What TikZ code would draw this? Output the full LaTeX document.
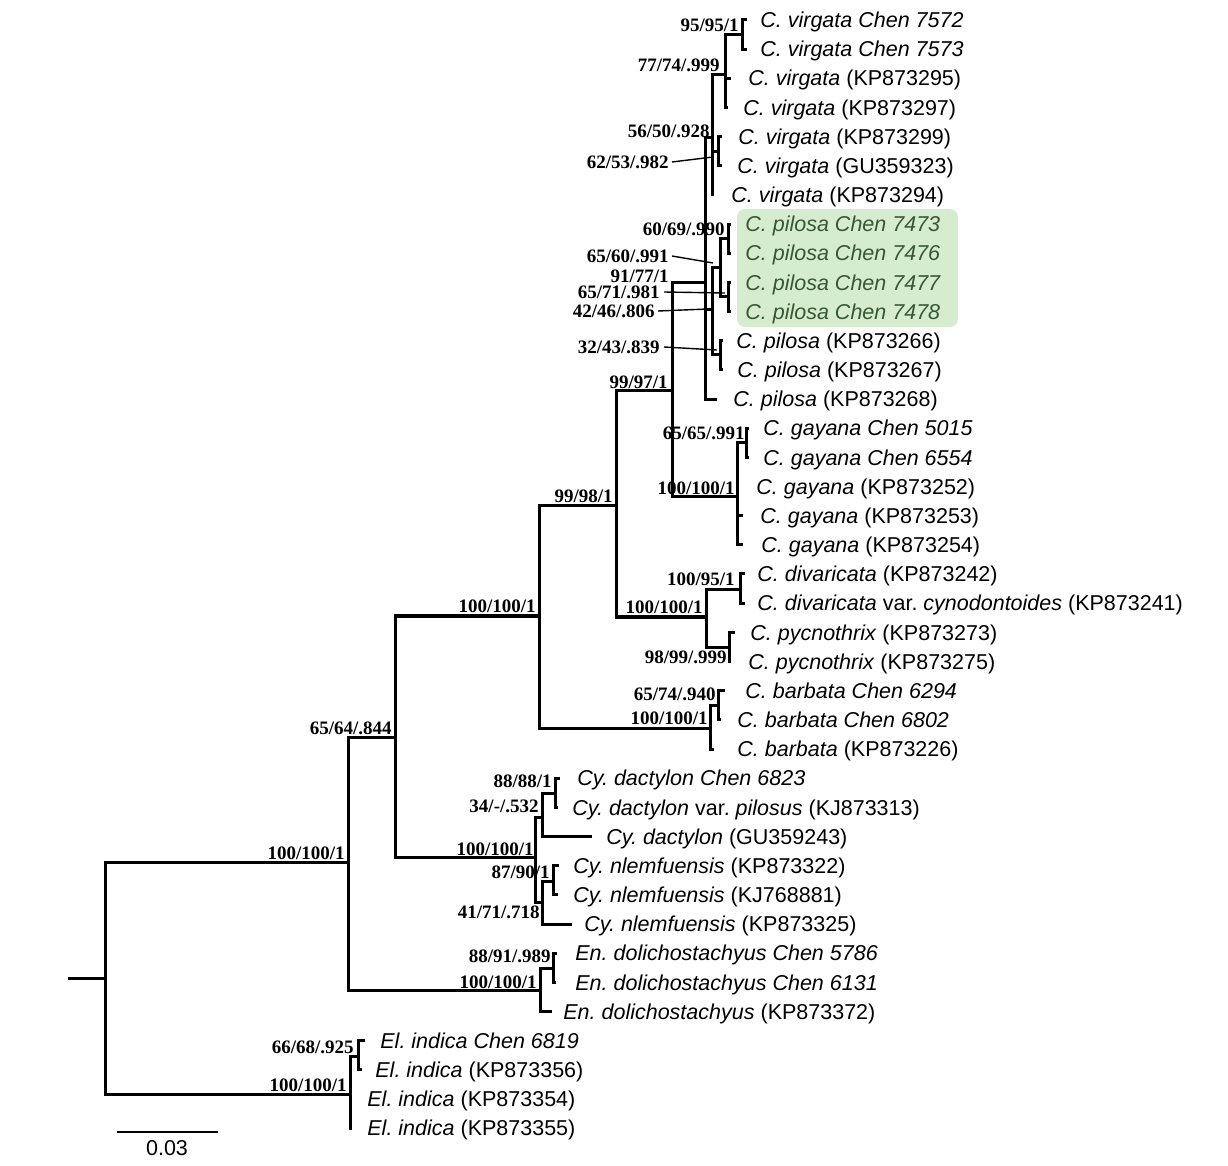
\documentclass[tikz,border=0pt]{standalone}
\usepackage{fontspec}
\setmainfont{Liberation Serif}
\newfontfamily\lsans{Liberation Sans}
\definecolor{boxgreen}{RGB}{213,236,206}
\definecolor{pilgreen}{RGB}{56,88,52}
\frenchspacing
\begin{document}
\begin{tikzpicture}[x=0.5pt,y=-0.5pt,
  br/.style={line width=1.5pt, line join=miter},
  leaf/.style={anchor=west, inner sep=0pt, font=\lsans\fontsize{10.75}{12}\selectfont, text height=7.7pt, text depth=0pt},
  pleaf/.style={leaf, text=pilgreen},
  sup/.style={anchor=east, inner sep=0pt, font=\bfseries\fontsize{9.5}{11}\selectfont, text height=6.4pt, text depth=0pt},
  ptr/.style={line width=0.7pt}]
\useasboundingbox (0,0) rectangle (1228,1166);
% highlight box
\fill[boxgreen, rounded corners=4pt] (737,209) rectangle (958,327);

% ---------- internal nodes ----------
\coordinate (r0) at (68,978);
\coordinate (nRoot) at (105,978);
\coordinate (nA) at (348,862);
\coordinate (nB) at (395,737);
\coordinate (nC) at (539,616);
\coordinate (nD) at (616,506);
\coordinate (nE) at (672,391);
\coordinate (nF) at (705,283);
\coordinate (nVir) at (712,138);
\coordinate (nV77) at (725,75);
\coordinate (nV95) at (742,35);
\coordinate (nV62) at (718,152);
\coordinate (nPil) at (712,310);
\coordinate (nP65) at (720,268);
\coordinate (nP60) at (728,239);
\coordinate (nP71) at (728,297);
\coordinate (nP32) at (720,355);
\coordinate (nGay) at (737,497);
\coordinate (nG65) at (746,443);
\coordinate (nDiv) at (706,617);
\coordinate (nDv) at (740,590);
\coordinate (nPy) at (729,647);
\coordinate (nBarb) at (710,728);
\coordinate (nB65) at (718,705);
\coordinate (nCy) at (535,857);
\coordinate (nC34) at (542,817);
\coordinate (nC88) at (555,793);
\coordinate (nC41) at (542,902);
\coordinate (nC87) at (553,881);
\coordinate (nEn) at (540,990);
\coordinate (nE88) at (553,968);
\coordinate (nEl) at (350,1094);
\coordinate (nEl66) at (358,1056);

% ---------- leaf tips ----------
\coordinate (t1) at (747,20);
\coordinate (t2) at (747,49.2);
\coordinate (t3) at (731,78.3);
\coordinate (t4) at (728,107.5);
\coordinate (t5) at (722,136.6);
\coordinate (t6) at (722,165.8);
\coordinate (t7) at (714,195);
\coordinate (t8) at (731,224.1);
\coordinate (t9) at (731,253.3);
\coordinate (t10) at (731,282.4);
\coordinate (t11) at (731,311.6);
\coordinate (t12) at (723,340.8);
\coordinate (t13) at (723,369.9);
\coordinate (t14) at (717,399.1);
\coordinate (t15) at (749,428.2);
\coordinate (t16) at (749,457.4);
\coordinate (t17) at (739,486.6);
\coordinate (t18) at (743,515.7);
\coordinate (t19) at (743,544.9);
\coordinate (t20) at (745,574);
\coordinate (t21) at (745,603.2);
\coordinate (t22) at (735,632.4);
\coordinate (t23) at (731,661.5);
\coordinate (t24) at (725,690.7);
\coordinate (t25) at (721,719.8);
\coordinate (t26) at (714,749);
\coordinate (t27) at (560,778.2);
\coordinate (t28) at (558,807.3);
\coordinate (t29) at (592,836.5);
\coordinate (t30) at (559,865.6);
\coordinate (t31) at (558,894.8);
\coordinate (t32) at (572,924);
\coordinate (t33) at (557,953.1);
\coordinate (t34) at (556,982.3);
\coordinate (t35) at (552,1011.4);
\coordinate (t36) at (365,1040.6);
\coordinate (t37) at (362,1069.8);
\coordinate (t38) at (352,1098.9);
\coordinate (t39) at (352,1128);

% ---------- branches ----------
\draw[br] (r0) -- (nRoot);
\draw[br] (nRoot) |- (nA);   \draw[br] (nRoot) |- (nEl);
\draw[br] (nA) |- (nB);      \draw[br] (nA) |- (nEn);
\draw[br] (nB) |- (nC);      \draw[br] (nB) |- (nCy);
\draw[br] (nC) |- (nD);      \draw[br] (nC) |- (nBarb);
\draw[br] (nD) |- (nE);      \draw[br] (nD) |- (nDiv);
\draw[br] (nE) |- (nF);      \draw[br] (nE) |- (nGay);
\draw[br] (nF) |- (nVir);    \draw[br] (nF) |- (nPil);   \draw[br] (nF) |- (t14);
\draw[br] (nVir) |- (nV77);  \draw[br] (nVir) |- (nV62); \draw[br] (nVir) |- (t7);
\draw[br] (nV77) |- (nV95);  \draw[br] (nV77) |- (t3);   \draw[br] (nV77) |- (t4);
\draw[br] (nV95) |- (t1);    \draw[br] (nV95) |- (t2);
\draw[br] (nV62) |- (t5);    \draw[br] (nV62) |- (t6);
\draw[br] (nPil) |- (nP65);  \draw[br] (nPil) |- (nP32);
\draw[br] (nP65) |- (nP60);  \draw[br] (nP65) |- (nP71);
\draw[br] (nP60) |- (t8);    \draw[br] (nP60) |- (t9);
\draw[br] (nP71) |- (t10);   \draw[br] (nP71) |- (t11);
\draw[br] (nP32) |- (t12);   \draw[br] (nP32) |- (t13);
\draw[br] (nGay) |- (nG65);  \draw[br] (nGay) |- (t17);  \draw[br] (nGay) |- (t18); \draw[br] (nGay) |- (t19);
\draw[br] (nG65) |- (t15);   \draw[br] (nG65) |- (t16);
\draw[br] (nDiv) |- (nDv);   \draw[br] (nDiv) |- (nPy);
\draw[br] (nDv) |- (t20);    \draw[br] (nDv) |- (t21);
\draw[br] (nPy) |- (t22);    \draw[br] (nPy) |- (t23);
\draw[br] (nBarb) |- (nB65); \draw[br] (nBarb) |- (t26);
\draw[br] (nB65) |- (t24);   \draw[br] (nB65) |- (t25);
\draw[br] (nCy) |- (nC34);   \draw[br] (nCy) |- (nC41);
\draw[br] (nC34) |- (nC88);  \draw[br] (nC34) |- (t29);
\draw[br] (nC88) |- (t27);   \draw[br] (nC88) |- (t28);
\draw[br] (nC41) |- (nC87);  \draw[br] (nC41) |- (t32);
\draw[br] (nC87) |- (t30);   \draw[br] (nC87) |- (t31);
\draw[br] (nEn) |- (nE88);   \draw[br] (nEn) |- (t35);
\draw[br] (nE88) |- (t33);   \draw[br] (nE88) |- (t34);
\draw[br] (nEl) |- (nEl66);  \draw[br] (nEl) |- (t38);   \draw[br] (nEl) |- (t39);
\draw[br] (nEl66) |- (t36);  \draw[br] (nEl66) |- (t37);

% ---------- leaf labels ----------
\node[leaf] (l1) at (760,20) {\textit{C. virgata Chen 7572}};
\node[leaf] (l2) at (760,49.2) {\textit{C. virgata Chen 7573}};
\node[leaf] (l3) at (748,78.3) {\textit{C. virgata} (KP873295)};
\node[leaf] (l4) at (743,107.5) {\textit{C. virgata} (KP873297)};
\node[leaf] (l5) at (738,136.6) {\textit{C. virgata} (KP873299)};
\node[leaf] (l6) at (737,165.8) {\textit{C. virgata} (GU359323)};
\node[leaf] (l7) at (731,195) {\textit{C. virgata} (KP873294)};
\node[pleaf] (l8) at (745,224.1) {\textit{C. pilosa Chen 7473}};
\node[pleaf] (l9) at (745,253.3) {\textit{C. pilosa Chen 7476}};
\node[pleaf] (l10) at (745,282.4) {\textit{C. pilosa Chen 7477}};
\node[pleaf] (l11) at (745,311.6) {\textit{C. pilosa Chen 7478}};
\node[leaf] (l12) at (736,340.8) {\textit{C. pilosa} (KP873266)};
\node[leaf] (l13) at (737,369.9) {\textit{C. pilosa} (KP873267)};
\node[leaf] (l14) at (733,399.1) {\textit{C. pilosa} (KP873268)};
\node[leaf] (l15) at (763,428.2) {\textit{C. gayana Chen 5015}};
\node[leaf] (l16) at (763,457.4) {\textit{C. gayana Chen 6554}};
\node[leaf] (l17) at (756,486.6) {\textit{C. gayana} (KP873252)};
\node[leaf] (l18) at (760,515.7) {\textit{C. gayana} (KP873253)};
\node[leaf] (l19) at (761,544.9) {\textit{C. gayana} (KP873254)};
\node[leaf] (l20) at (757,574) {\textit{C. divaricata} (KP873242)};
\node[leaf] (l21) at (757,603.2) {\textit{C. divaricata} var. \textit{cynodontoides} (KP873241)};
\node[leaf] (l22) at (750,632.4) {\textit{C. pycnothrix} (KP873273)};
\node[leaf] (l23) at (748,661.5) {\textit{C. pycnothrix} (KP873275)};
\node[leaf] (l24) at (745,690.7) {\textit{C. barbata Chen 6294}};
\node[leaf] (l25) at (737,719.8) {\textit{C. barbata Chen 6802}};
\node[leaf] (l26) at (737,749) {\textit{C. barbata} (KP873226)};
\node[leaf] (l27) at (577,778.2) {\textit{Cy. dactylon Chen 6823}};
\node[leaf] (l28) at (572,807.3) {\textit{Cy. dactylon} var. \textit{pilosus} (KJ873313)};
\node[leaf] (l29) at (606,836.5) {\textit{Cy. dactylon} (GU359243)};
\node[leaf] (l30) at (573,865.6) {\textit{Cy. nlemfuensis} (KP873322)};
\node[leaf] (l31) at (573,894.8) {\textit{Cy. nlemfuensis} (KJ768881)};
\node[leaf] (l32) at (584,924) {\textit{Cy. nlemfuensis} (KP873325)};
\node[leaf] (l33) at (575,953.1) {\textit{En. dolichostachyus Chen 5786}};
\node[leaf] (l34) at (575,982.3) {\textit{En. dolichostachyus Chen 6131}};
\node[leaf] (l35) at (563,1011.4) {\textit{En. dolichostachyus} (KP873372)};
\node[leaf] (l36) at (380,1040.6) {\textit{El. indica Chen 6819}};
\node[leaf] (l37) at (375,1069.8) {\textit{El. indica} (KP873356)};
\node[leaf] (l38) at (367,1098.9) {\textit{El. indica} (KP873354)};
\node[leaf] (l39) at (367,1128) {\textit{El. indica} (KP873355)};

% ---------- support values ----------
\node[sup] (s1) at (739,25) {95/95/1};
\node[sup] (s2) at (720,65) {77/74/.999};
\node[sup] (s3) at (710,131) {56/50/.928};
\node[sup] (s4) at (669,162) {62/53/.982};
\node[sup] (s5) at (725,229) {60/69/.990};
\node[sup] (s6) at (669,256) {65/60/.991};
\node[sup] (s7) at (669,276) {91/77/1};
\node[sup] (s8) at (660,292) {65/71/.981};
\node[sup] (s9) at (655,311) {42/46/.806};
\node[sup] (s10) at (660,347) {32/43/.839};
\node[sup] (s11) at (668,382) {99/97/1};
\node[sup] (s12) at (745,433) {65/65/.991};
\node[sup] (s13) at (735,488) {100/100/1};
\node[sup] (s14) at (613,496) {99/98/1};
\node[sup] (s15) at (735,579) {100/95/1};
\node[sup] (s16) at (703,607) {100/100/1};
\node[sup] (s17) at (727,657) {98/99/.999};
\node[sup] (s18) at (716,694) {65/74/.940};
\node[sup] (s19) at (708,718) {100/100/1};
\node[sup] (s20) at (536,606) {100/100/1};
\node[sup] (s21) at (392,728) {65/64/.844};
\node[sup] (s22) at (345,853) {100/100/1};
\node[sup] (s23) at (552,781) {88/88/1};
\node[sup] (s24) at (539,806) {34/-/.532};
\node[sup] (s25) at (534,849) {100/100/1};
\node[sup] (s26) at (550,872) {87/90/1};
\node[sup] (s27) at (540,912) {41/71/.718};
\node[sup] (s28) at (551,956) {88/91/.989};
\node[sup] (s29) at (537,982) {100/100/1};
\node[sup] (s30) at (354,1047) {66/68/.925};
\node[sup] (s31) at (347,1085) {100/100/1};

% pointer lines
\coordinate (p4) at (713,157);
\coordinate (p6) at (713,263);
\coordinate (p8) at (725,293);
\coordinate (p9) at (708,309);
\coordinate (p10) at (717,350);
\draw[ptr] ([xshift=1.5pt]s4.east) -- (p4);
\draw[ptr] ([xshift=1.5pt]s6.east) -- (p6);
\draw[ptr] ([xshift=2pt]s8.east) -- (p8);
\draw[ptr] ([xshift=1.5pt]s9.east) -- (p9);
\draw[ptr] ([xshift=2pt]s10.east) -- (p10);

% ---------- scale bar ----------
\coordinate (sb1) at (117,1132);
\coordinate (sb2) at (218,1132);
\draw[line width=1.2pt] (sb1) -- (sb2);
\node[inner sep=0pt, font=\lsans\fontsize{10.75}{12}\selectfont, text height=7.7pt, text depth=0pt] (sbl) at (167,1148) {0.03};
\end{tikzpicture}
\end{document}
